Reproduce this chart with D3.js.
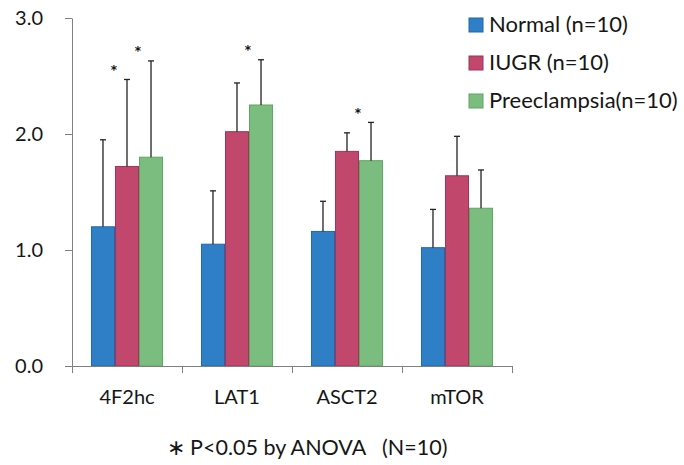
<!DOCTYPE html>
<html>
<head>
<meta charset="utf-8">
<script src="https://cdn.jsdelivr.net/npm/d3@7"></script>
<style>
  body { margin: 0; background: #fff; }
  svg { display: block; font-family: Lato, "Open Sans", sans-serif; }
</style>
</head>
<body>
<div id="chart"></div>
<script>
const categories = ["4F2hc", "LAT1", "ASCT2", "mTOR"];
const seriesNames = ["Normal (n=10)", "IUGR (n=10)", "Preeclampsia(n=10)"];

const normalMean = [1.20, 1.05, 1.16, 1.02];
const normalSD   = [0.75, 0.46, 0.26, 0.33];
const iugrMean   = [1.72, 2.02, 1.85, 1.64];
const iugrSD     = [0.75, 0.42, 0.16, 0.34];
const preMean    = [1.80, 2.25, 1.77, 1.36];
const preSD      = [0.83, 0.39, 0.33, 0.33];

// significance marks (*) per series
const normalSig = [false, false, false, false];
const iugrSig   = [true, false, false, false];
const preSig    = [true, true, true, false];

const yTicks = [0, 1, 2, 3];
const footnote = "\u2217 P<0.05 by ANOVA   (N=10)";

const fills   = ["#2f7fc7", "#c1476c", "#7bbd7f"];
const strokes = ["#1f68ab", "#a2335a", "#5ea663"];
const ink = "#161616";

const width = 684, height = 465;
const plotLeft = 72, plotRight = 512, plotTop = 18, plotBottom = 366;

const series = seriesNames.map((name, i) => ({
  name,
  mean: [normalMean, iugrMean, preMean][i],
  sd:   [normalSD, iugrSD, preSD][i],
  sig:  [normalSig, iugrSig, preSig][i]
}));

const svg = d3.select("#chart").append("svg")
  .attr("width", width)
  .attr("height", height);

const x = d3.scaleBand().domain(categories).range([plotLeft, plotRight]).padding(0);
const xSub = d3.scaleBand().domain(d3.range(seriesNames.length))
  .range([0, x.bandwidth()]).paddingInner(0).paddingOuter(0.79);
const y = d3.scaleLinear().domain([0, 3]).range([plotBottom, plotTop]);

// y axis
const yAxis = svg.append("g")
  .attr("transform", `translate(${plotLeft},0)`)
  .call(d3.axisLeft(y).tickValues(yTicks).tickFormat(d3.format(".1f"))
    .tickSize(7).tickSizeOuter(0).tickPadding(22));
yAxis.select(".domain").attr("stroke", "#808080");
yAxis.selectAll(".tick line").attr("stroke", "#808080");
yAxis.selectAll("text").attr("font-size", 20).attr("fill", ink)
  .attr("font-family", "Lato, sans-serif");

// bars
const groups = svg.append("g").selectAll("g")
  .data(series)
  .join("g");

groups.selectAll("rect")
  .data((s, si) => categories.map((c, ci) => ({ si, c, v: s.mean[ci] })))
  .join("rect")
  .attr("x", d => x(d.c) + xSub(d.si) + 0.5)
  .attr("y", d => y(d.v))
  .attr("width", xSub.bandwidth() - 1)
  .attr("height", d => y(0) - y(d.v))
  .attr("fill", d => fills[d.si])
  .attr("stroke", d => strokes[d.si])
  .attr("stroke-width", 1);

// error bars (upper only)
const errs = svg.append("g").attr("stroke", "#222").attr("stroke-width", 1.3);
series.forEach((s, si) => {
  categories.forEach((c, ci) => {
    const cx = x(c) + xSub(si) + xSub.bandwidth() / 2;
    const t = y(s.mean[ci] + s.sd[ci]);
    errs.append("line").attr("x1", cx).attr("x2", cx)
      .attr("y1", y(s.mean[ci])).attr("y2", t);
    errs.append("line").attr("x1", cx - 3).attr("x2", cx + 3)
      .attr("y1", t).attr("y2", t);
    if (s.sig[ci]) {
      svg.append("text")
        .attr("x", x(c) + xSub(si) - 1)
        .attr("y", t - 13)
        .attr("dy", "0.6em")
        .attr("text-anchor", "middle")
        .attr("font-family", "DejaVu Sans, sans-serif")
        .attr("font-weight", "bold")
        .attr("font-size", 12)
        .attr("fill", "#111")
        .text("*");
    }
  });
});

// x axis line and boundary ticks
const xAxis = svg.append("g").attr("stroke", "#808080").attr("stroke-width", 1);
xAxis.append("line")
  .attr("x1", plotLeft - 7).attr("x2", plotRight)
  .attr("y1", y(0) + 0.5).attr("y2", y(0) + 0.5);
const bounds = categories.map(c => x(c)).concat([x(categories[categories.length - 1]) + x.bandwidth()]);
xAxis.selectAll("line.b")
  .data(bounds)
  .join("line")
  .attr("class", "b")
  .attr("x1", d => d + 0.5).attr("x2", d => d + 0.5)
  .attr("y1", y(0)).attr("y2", y(0) + 7);

// category labels
svg.append("g").selectAll("text")
  .data(categories)
  .join("text")
  .attr("x", d => x(d) + x.bandwidth() / 2)
  .attr("y", 404)
  .attr("text-anchor", "middle")
  .attr("font-size", 20)
  .attr("fill", ink)
  .text(d => d);

// legend
const legend = svg.append("g").attr("transform", "translate(469,18)");
const rowH = 38;
const items = legend.selectAll("g")
  .data(seriesNames)
  .join("g")
  .attr("transform", (d, i) => `translate(0,${i * rowH})`);
items.append("rect")
  .attr("width", 14).attr("height", 14)
  .attr("fill", (d, i) => fills[i])
  .attr("stroke", (d, i) => strokes[i]);
items.append("text")
  .attr("x", 20)
  .attr("y", 14)
  .attr("font-size", 22)
  .attr("fill", ink)
  .text(d => d);

// footnote
svg.append("text")
  .attr("x", 307)
  .attr("y", 455)
  .attr("text-anchor", "middle")
  .attr("font-size", 21.5)
  .attr("fill", ink)
  .style("white-space", "pre")
  .text(footnote);
</script>
</body>
</html>
